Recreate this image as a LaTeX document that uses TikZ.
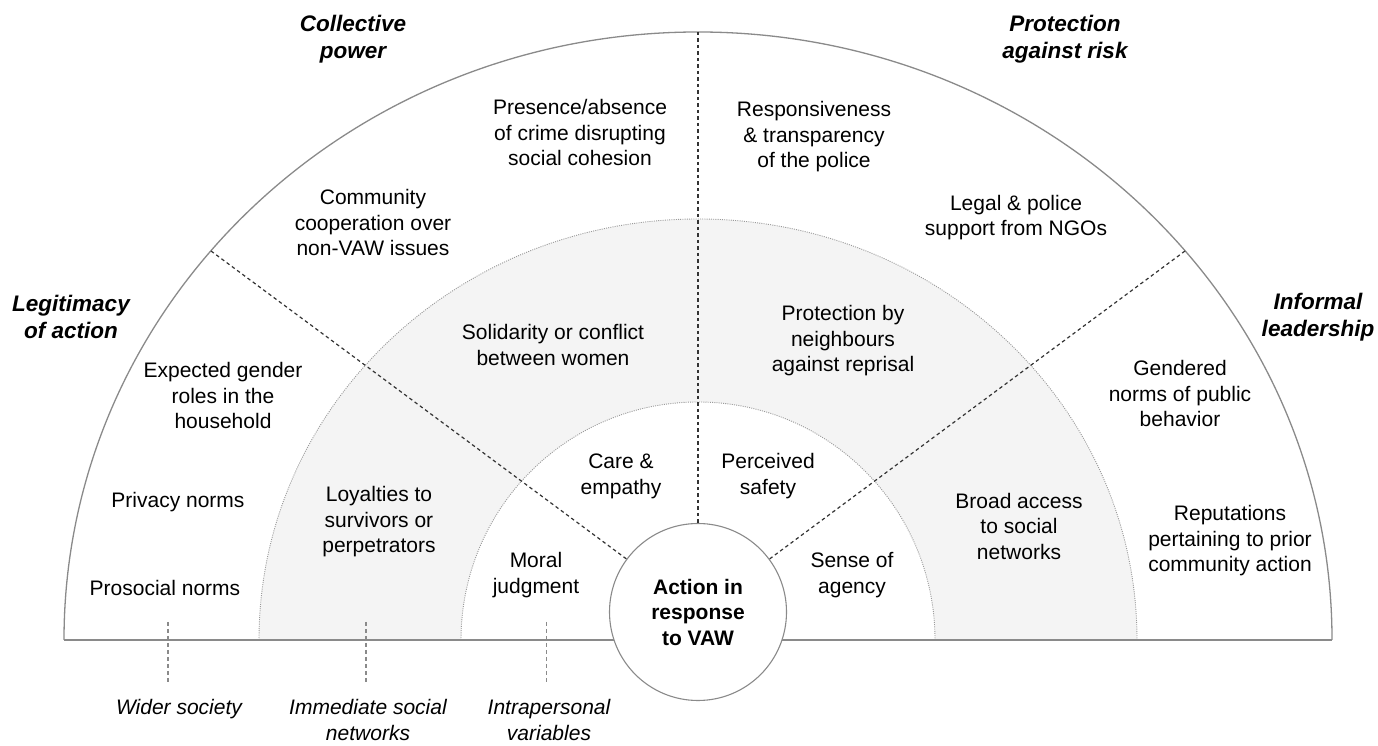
\documentclass[tikz,border=0pt]{standalone}
\usepackage{fontspec}
\setmainfont{Liberation Sans}
\definecolor{shadegray}{HTML}{F4F4F4}
\definecolor{linegray}{HTML}{8A8A8A}
\definecolor{dotgray}{HTML}{9A9A9A}
\definecolor{dashdark}{HTML}{333333}
\begin{document}
\begin{tikzpicture}[x=1pt,y=1pt,
  txt/.style={align=center, inner sep=0pt, font=\fontsize{21}{25.5}\selectfont},
  sectlbl/.style={txt, font=\fontsize{22.5}{27}\selectfont\bfseries\itshape},
  levellbl/.style={txt, font=\fontsize{21}{26}\selectfont\itshape},
  outerline/.style={draw=linegray, line width=1.3pt},
  ringline/.style={draw=dotgray, line width=0.9pt, dash pattern=on 1pt off 1.2pt},
  baseln/.style={draw=linegray, line width=1.2pt},
  divline/.style={draw=dashdark, line width=1.2pt, dash pattern=on 3.5pt off 3pt},
  tickline/.style={draw=linegray, line width=1.1pt, dash pattern=on 4pt off 3pt},
  hub/.style={circle, draw=linegray, line width=1.1pt, fill=white, minimum size=177pt, inner sep=0pt, align=center, font=\fontsize{21}{25.5}\selectfont\bfseries}
]
\useasboundingbox (0,0) rectangle (1378,746);

% shaded middle ring
\fill[shadegray] (259,106) arc[start angle=180,end angle=0,x radius=439,y radius=421]
  -- (935,106) arc[start angle=0,end angle=180,x radius=237,y radius=238] -- cycle;

% ring boundaries
\draw[ringline] (259,106) arc[start angle=180,end angle=0,x radius=439,y radius=421];
\draw[ringline] (461,106) arc[start angle=180,end angle=0,x radius=237,y radius=238];

% outer arc and base line
\draw[outerline] (64,106) arc[start angle=180,end angle=0,x radius=634,y radius=608];
\draw[baseln] (64,106) -- (1332,106);

% hub
\node[hub] (act) at (698,134) {Action in\\response\\to VAW};

% dividers
\coordinate (tl) at (211,495);
\coordinate (tr) at (1185,495);
\coordinate (tp) at (698,714);
\draw[divline] (tl) -- (act);
\draw[divline] (tr) -- (act);
\draw[divline] (tp) -- (act.north);

% section labels
\node[sectlbl] (s1) at (353,707) {Collective\\power};
\node[sectlbl] (s2) at (1065,707) {Protection\\against risk};
\node[sectlbl] (s3) at (71,429) {Legitimacy\\of action};
\node[sectlbl] (s4) at (1318,429) {Informal\\leadership};

% outer ring texts
\node[txt] (o1) at (580,613) {Presence/absence\\of crime disrupting\\social cohesion};
\node[txt] (o2) at (373,523) {Community\\cooperation over\\non-VAW issues};
\node[txt] (o3) at (814,609) {Responsiveness\\\& transparency\\of the police};
\node[txt] (o4) at (1016,528.5) {Legal \& police\\support from NGOs};
\node[txt] (o5) at (223,350) {Expected gender\\roles in the\\household};
\node[txt] (o6) at (1180,352) {Gendered\\norms of public\\behavior};
\node[txt] (o7) at (178,244) {Privacy norms};
\node[txt] (o8) at (165,158) {Prosocial norms};
\node[txt] (o9) at (1230,205) {Reputations\\pertaining to prior\\community action};

% middle ring texts
\node[txt] (m1) at (553,401) {Solidarity or conflict\\between women};
\node[txt] (m2) at (843,405) {Protection by\\neighbours\\against reprisal};
\node[txt] (m3) at (379,224) {Loyalties to\\survivors or\\perpetrators};
\node[txt] (m4) at (1019,220) {Broad access\\to social\\networks};

% inner ring texts
\node[txt] (i1) at (621,269.5) {Care \&\\empathy};
\node[txt] (i2) at (768,270) {Perceived\\safety};
\node[txt] (i3) at (536,171) {Moral\\judgment};
\node[txt] (i4) at (852,171) {Sense of\\agency};

% level labels and ticks
\node[levellbl, anchor=north] (l1) at (179,47) {Wider society};
\node[levellbl, anchor=north] (l2) at (368,47) {Immediate social\\networks};
\node[levellbl, anchor=north] (l3) at (549,47) {Intrapersonal\\variables};
\coordinate (t1a) at (168,124); \coordinate (t1b) at (168,63);
\coordinate (t2a) at (366,124); \coordinate (t2b) at (366,63);
\coordinate (t3a) at (546.5,124); \coordinate (t3b) at (546.5,63);
\draw[tickline] (t1a) -- (t1b);
\draw[tickline] (t2a) -- (t2b);
\draw[tickline] (t3a) -- (t3b);
\end{tikzpicture}
\end{document}
